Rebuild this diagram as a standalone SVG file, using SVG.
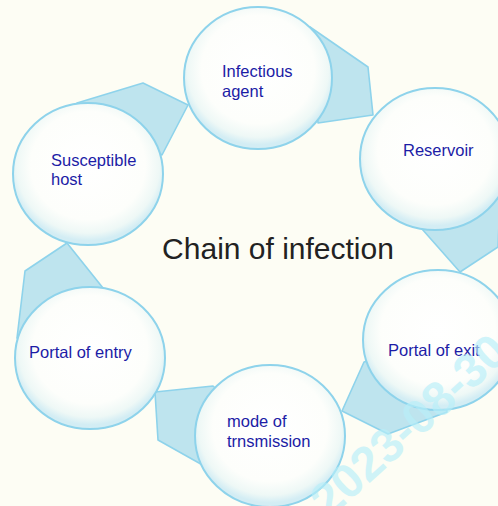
<svg xmlns="http://www.w3.org/2000/svg" width="498" height="506" viewBox="0 0 498 506">
<defs>
<radialGradient id="bubble" cx="50%" cy="44%" r="53%">
<stop offset="0%" stop-color="#ffffff"/>
<stop offset="72%" stop-color="#fdfefb"/>
<stop offset="90%" stop-color="#eef8f6"/>
<stop offset="100%" stop-color="#d3edf4"/>
</radialGradient>
<style>
.bg{fill:#fdfdf4}
.node{fill:url(#bubble);stroke:#8ed3eb;stroke-width:2}
.link{fill:#bee4ee;stroke:#8ed3eb;stroke-width:1.6;stroke-linejoin:round}
.lbl{font-family:"Liberation Sans","DejaVu Sans",sans-serif;font-size:16.5px;fill:#1c1ca6}
.title{font-family:"Liberation Sans","DejaVu Sans",sans-serif;font-size:30px;fill:#222222}
.wm{font-family:"Liberation Sans","DejaVu Sans",sans-serif;font-size:48px;font-weight:bold;fill:#b8eff9;opacity:0.65}
</style>
</defs>
<rect class="bg" x="0" y="0" width="498" height="506"/>
<g id="connectors">
<polygon class="link" points="310,27 368,67 373,115 318,123"/>
<polygon class="link" points="435,159 422,229 460,272 498,247 500,200"/>
<polygon class="link" points="438,340 364,362 342,411 388,434 447,412"/>
<polygon class="link" points="270,436 213,386 155,392 158,440 215,472"/>
<polygon class="link" points="67,243 103,288 17,338 25,271"/>
<polygon class="link" points="77,103 143,83 188,105 162,155"/>
</g>
<g id="infectious-agent">
<ellipse class="node" cx="258" cy="78" rx="74" ry="71"/>
<text class="lbl" x="222" y="77">Infectious</text>
<text class="lbl" x="222" y="97">agent</text>
</g>
<g id="reservoir">
<ellipse class="node" cx="435" cy="159" rx="75" ry="71"/>
<text class="lbl" x="403" y="156">Reservoir</text>
</g>
<g id="portal-of-exit">
<ellipse class="node" cx="438" cy="340" rx="75" ry="70"/>
<text class="lbl" x="388" y="356">Portal of exit</text>
</g>
<g id="mode-of-transmission">
<ellipse class="node" cx="270" cy="436" rx="75" ry="71"/>
<text class="lbl" x="227" y="427">mode of</text>
<text class="lbl" x="227" y="447">trnsmission</text>
</g>
<g id="portal-of-entry">
<ellipse class="node" cx="90" cy="358" rx="75" ry="71"/>
<text class="lbl" x="29" y="358">Portal of entry</text>
</g>
<g id="susceptible-host">
<ellipse class="node" cx="88" cy="174" rx="75" ry="71"/>
<text class="lbl" x="51" y="166">Susceptible</text>
<text class="lbl" x="51" y="185">host</text>
</g>
<g id="title">
<text class="title" x="278" y="259" text-anchor="middle">Chain of infection</text>
</g>
<g id="watermark" transform="translate(411,428) rotate(-42)">
<text class="wm" x="0" y="13" text-anchor="middle">2023-08-30</text>
</g>
</svg>
